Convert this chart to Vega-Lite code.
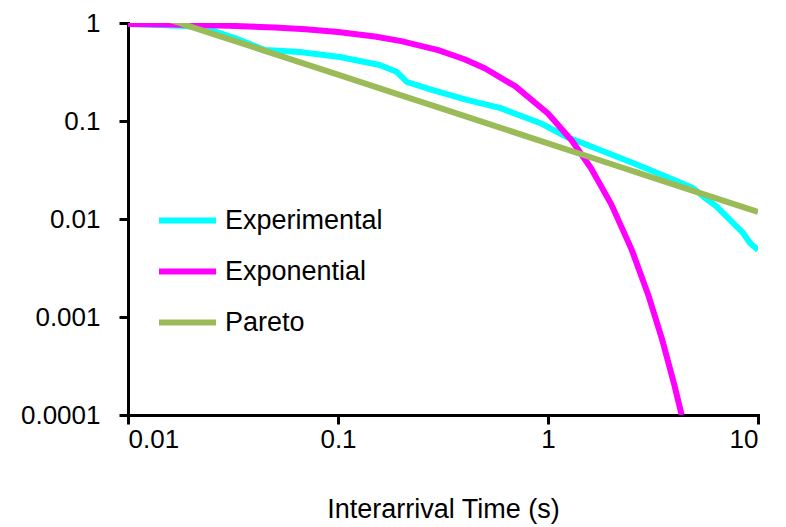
{
  "$schema": "https://vega.github.io/schema/vega-lite/v6.json",
  "width": 630,
  "height": 392,
  "autosize": {"type": "none"},
  "padding": {"left": 128, "top": 23, "right": 28, "bottom": 112},
  "background": "white",
  "config": {
    "view": {"stroke": null},
    "font": "Liberation Sans",
    "axis": {
      "grid": false,
      "domainColor": "black",
      "domainWidth": 3,
      "domainCap": "square",
      "tickColor": "black",
      "tickWidth": 3,
      "tickSize": 9,
      "labelColor": "black",
      "labelFont": "Liberation Sans",
      "labelFontSize": 26,
      "titleColor": "black",
      "titleFont": "Liberation Sans",
      "titleFontSize": 27,
      "titleFontWeight": "normal"
    },
    "legend": {
      "labelFont": "Liberation Sans",
      "labelFontSize": 27,
      "labelColor": "black"
    }
  },
  "data": {
    "values": [
      {"series": "Experimental", "t": 0.01, "p": 0.977},
      {"series": "Experimental", "t": 0.0142, "p": 0.954},
      {"series": "Experimental", "t": 0.0187, "p": 0.932},
      {"series": "Experimental", "t": 0.0232, "p": 0.889},
      {"series": "Experimental", "t": 0.0323, "p": 0.703},
      {"series": "Experimental", "t": 0.0449, "p": 0.53},
      {"series": "Experimental", "t": 0.0659, "p": 0.506},
      {"series": "Experimental", "t": 0.102, "p": 0.45},
      {"series": "Experimental", "t": 0.158, "p": 0.373},
      {"series": "Experimental", "t": 0.191, "p": 0.316},
      {"series": "Experimental", "t": 0.213, "p": 0.25},
      {"series": "Experimental", "t": 0.283, "p": 0.207},
      {"series": "Experimental", "t": 0.411, "p": 0.164},
      {"series": "Experimental", "t": 0.59, "p": 0.136},
      {"series": "Experimental", "t": 0.916, "p": 0.0955},
      {"series": "Experimental", "t": 1.23, "p": 0.0687},
      {"series": "Experimental", "t": 1.77, "p": 0.0506},
      {"series": "Experimental", "t": 2.54, "p": 0.0373},
      {"series": "Experimental", "t": 3.69, "p": 0.0268},
      {"series": "Experimental", "t": 4.9, "p": 0.0207},
      {"series": "Experimental", "t": 5.59, "p": 0.0164},
      {"series": "Experimental", "t": 6.38, "p": 0.0133},
      {"series": "Experimental", "t": 7.36, "p": 0.00977},
      {"series": "Experimental", "t": 8.49, "p": 0.0072},
      {"series": "Experimental", "t": 9.16, "p": 0.00569},
      {"series": "Experimental", "t": 10, "p": 0.00483},

      {"series": "Exponential", "t": 0.01, "p": 0.9789},
      {"series": "Exponential", "t": 0.02, "p": 0.9583},
      {"series": "Exponential", "t": 0.03, "p": 0.9382},
      {"series": "Exponential", "t": 0.05, "p": 0.8991},
      {"series": "Exponential", "t": 0.07, "p": 0.8616},
      {"series": "Exponential", "t": 0.1, "p": 0.8083},
      {"series": "Exponential", "t": 0.15, "p": 0.7268},
      {"series": "Exponential", "t": 0.2, "p": 0.6534},
      {"series": "Exponential", "t": 0.3, "p": 0.5282},
      {"series": "Exponential", "t": 0.4, "p": 0.427},
      {"series": "Exponential", "t": 0.5, "p": 0.3451},
      {"series": "Exponential", "t": 0.7, "p": 0.2255},
      {"series": "Exponential", "t": 1.0, "p": 0.1191},
      {"series": "Exponential", "t": 1.3, "p": 0.0629},
      {"series": "Exponential", "t": 1.6, "p": 0.0332},
      {"series": "Exponential", "t": 2.0, "p": 0.01419},
      {"series": "Exponential", "t": 2.5, "p": 0.0049},
      {"series": "Exponential", "t": 3.0, "p": 0.00169},
      {"series": "Exponential", "t": 3.5, "p": 0.000584},
      {"series": "Exponential", "t": 4.0, "p": 0.000201},
      {"series": "Exponential", "t": 4.33, "p": 0.0001},

      {"series": "Pareto", "t": 0.0142, "p": 1.16},
      {"series": "Pareto", "t": 0.0176, "p": 1.0},
      {"series": "Pareto", "t": 0.02, "p": 0.915},
      {"series": "Pareto", "t": 0.03, "p": 0.689},
      {"series": "Pareto", "t": 0.05, "p": 0.482},
      {"series": "Pareto", "t": 0.1, "p": 0.2967},
      {"series": "Pareto", "t": 0.2, "p": 0.1826},
      {"series": "Pareto", "t": 0.3, "p": 0.1375},
      {"series": "Pareto", "t": 0.5, "p": 0.0961},
      {"series": "Pareto", "t": 1.0, "p": 0.0592},
      {"series": "Pareto", "t": 2.0, "p": 0.0364},
      {"series": "Pareto", "t": 3.0, "p": 0.02742},
      {"series": "Pareto", "t": 5.0, "p": 0.01918},
      {"series": "Pareto", "t": 7.0, "p": 0.01516},
      {"series": "Pareto", "t": 10.0, "p": 0.0118}
    ]
  },
  "mark": {"type": "line", "clip": true, "strokeCap": "butt", "strokeJoin": "round"},
  "encoding": {
    "x": {
      "field": "t",
      "type": "quantitative",
      "scale": {"type": "log", "domain": [0.01, 10], "nice": false},
      "axis": {
        "title": "Interarrival Time (s)",
        "values": [0.01, 0.1, 1, 10],
        "format": "~g",
        "labelPadding": 2,
        "titleBaseline": "alphabetic",
        "titleY": 102
      }
    },
    "y": {
      "field": "p",
      "type": "quantitative",
      "scale": {"type": "log", "domain": [0.0001, 1], "nice": false},
      "axis": {
        "title": null,
        "values": [0.0001, 0.001, 0.01, 0.1, 1],
        "format": "~g",
        "labelPadding": 19
      }
    },
    "color": {
      "field": "series",
      "type": "nominal",
      "sort": ["Experimental", "Exponential", "Pareto"],
      "scale": {
        "domain": ["Experimental", "Exponential", "Pareto"],
        "range": ["#00FFFF", "#FF00FF", "#9BBB59"]
      },
      "legend": {
        "title": null,
        "orient": "none",
        "legendX": 28,
        "legendY": 166,
        "symbolType": "stroke",
        "symbolSize": 3249,
        "symbolStrokeWidth": 6,
        "labelOffset": 6,
        "rowPadding": 6
      }
    },
    "strokeWidth": {
      "field": "series",
      "type": "nominal",
      "scale": {
        "domain": ["Experimental", "Exponential", "Pareto"],
        "range": [6, 6, 8]
      },
      "legend": null
    },
    "order": {"field": "t", "type": "quantitative"}
  }
}
